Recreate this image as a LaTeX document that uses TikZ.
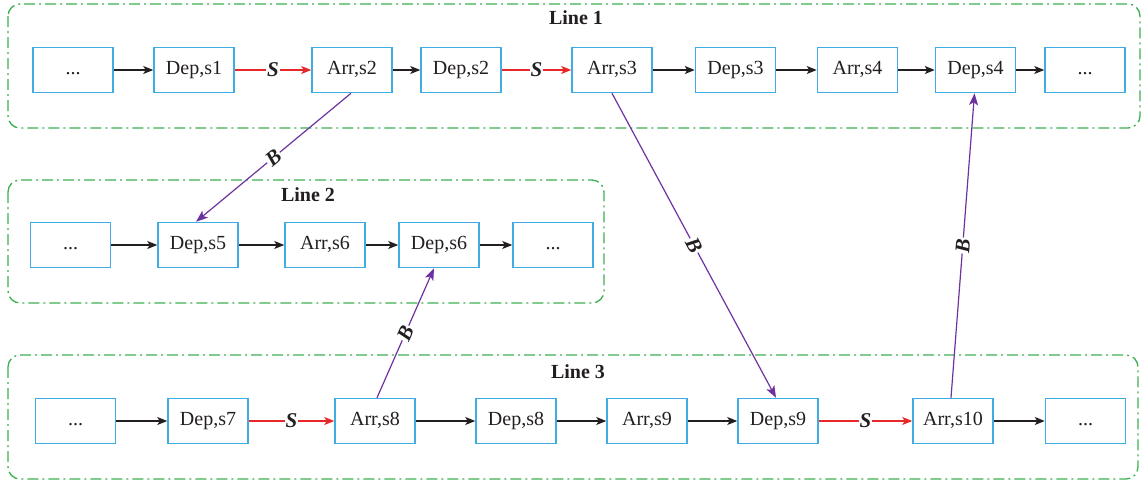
\documentclass[tikz,border=0pt]{standalone}
\usepackage{fontspec}
\setmainfont{Liberation Serif}
\usetikzlibrary{arrows.meta}
\definecolor{boxblue}{RGB}{64,172,228}
\definecolor{grpgreen}{RGB}{60,175,80}
\definecolor{sred}{RGB}{232,40,40}
\definecolor{bpurple}{RGB}{110,50,160}
\definecolor{tblack}{RGB}{35,31,32}
\begin{document}
\begin{tikzpicture}[x=1pt,y=-1pt,
  every node/.style={font=\fontsize{20}{24}\selectfont, text=tblack},
  stn/.style={draw=boxblue, line width=1.5pt, fill=white, minimum width=80pt, minimum height=45pt, inner sep=0pt, text height=13pt, text depth=4pt},
  grp/.style={draw=grpgreen, line width=1.3pt, rounded corners=12pt, dash pattern=on 11pt off 4pt on 2pt off 4pt},
  ttl/.style={font=\fontsize{20}{24}\selectfont\bfseries},
  tarr/.style={draw=tblack, line width=1.2pt, -{Stealth[length=10pt,width=8pt,inset=2.5pt]}},
  sarr/.style={draw=sred, line width=1.2pt, -{Stealth[length=10pt,width=8pt,inset=2.5pt]}},
  barr/.style={draw=bpurple, line width=1.2pt, -{Stealth[length=12pt,width=9pt,inset=3pt]}},
  lbl/.style={fill=white, inner sep=1pt, font=\fontsize{21}{24}\selectfont\bfseries\itshape},
]
\useasboundingbox (0,0) rectangle (1141,483);
% groups
\draw[grp] (8,4) rectangle (1140,128);
\draw[grp] (8,180) rectangle (604,303);
\draw[grp] (8,355) rectangle (1138,479);
\node[ttl] (t1) at (576,18) {Line 1};
\node[ttl] (t2) at (308,195) {Line 2};
\node[ttl] (t3) at (578,372) {Line 3};
% row 1
\node[stn] (n1a) at (73,70) {...};
\node[stn] (d1) at (194,70) {Dep,s1};
\node[stn] (a2) at (352,70) {Arr,s2};
\node[stn] (d2) at (461,70) {Dep,s2};
\node[stn] (a3) at (612,70) {Arr,s3};
\node[stn] (d3) at (735.5,70) {Dep,s3};
\node[stn] (a4) at (857.5,70) {Arr,s4};
\node[stn] (d4) at (975.5,70) {Dep,s4};
\node[stn] (n1b) at (1085,70) {...};
% row 2
\node[stn] (n2a) at (70.5,245) {...};
\node[stn] (d5) at (198,245) {Dep,s5};
\node[stn] (a6) at (325,245) {Arr,s6};
\node[stn] (d6) at (439,245) {Dep,s6};
\node[stn] (n2b) at (553,245) {...};
% row 3
\node[stn] (n3a) at (75.5,421) {...};
\node[stn] (d7) at (208,421) {Dep,s7};
\node[stn] (a8) at (375,421) {Arr,s8};
\node[stn] (d8) at (516,421) {Dep,s8};
\node[stn] (a9) at (647,421) {Arr,s9};
\node[stn] (d9) at (778,421) {Dep,s9};
\node[stn] (a10) at (953,421) {Arr,s10};
\node[stn] (n3b) at (1085.5,421) {...};
% row 1 edges
\draw[tarr] (n1a) -- (d1);
\draw[sarr] (d1) -- node[lbl] {S} (a2);
\draw[tarr] (a2) -- (d2);
\draw[sarr] (d2) -- node[lbl] {S} (a3);
\draw[tarr] (a3) -- (d3);
\draw[tarr] (d3) -- (a4);
\draw[tarr] (a4) -- (d4);
\draw[tarr] (d4) -- (n1b);
% row 2 edges
\draw[tarr] (n2a) -- (d5);
\draw[tarr] (d5) -- (a6);
\draw[tarr] (a6) -- (d6);
\draw[tarr] (d6) -- (n2b);
% row 3 edges
\draw[tarr] (n3a) -- (d7);
\draw[sarr] (d7) -- node[lbl] {S} (a8);
\draw[tarr] (a8) -- (d8);
\draw[tarr] (d8) -- (a9);
\draw[tarr] (a9) -- (d9);
\draw[sarr] (d9) -- node[lbl] {S} (a10);
\draw[tarr] (a10) -- (n3b);
% transfer edges
\draw[barr] ([xshift=-1pt]a2.south) -- node[lbl, sloped] {B} ([xshift=-2pt]d5.north);
\draw[barr] (a3.south) -- node[lbl, sloped] {B} ([xshift=-2pt]d9.north);
\draw[barr] ([xshift=2pt]a8.north) -- node[lbl, sloped] {B} ([xshift=-5pt]d6.south);
\draw[barr] ([xshift=-2pt]a10.north) -- node[lbl, sloped] {B} ([xshift=-1pt]d4.south);
\end{tikzpicture}
\end{document}
